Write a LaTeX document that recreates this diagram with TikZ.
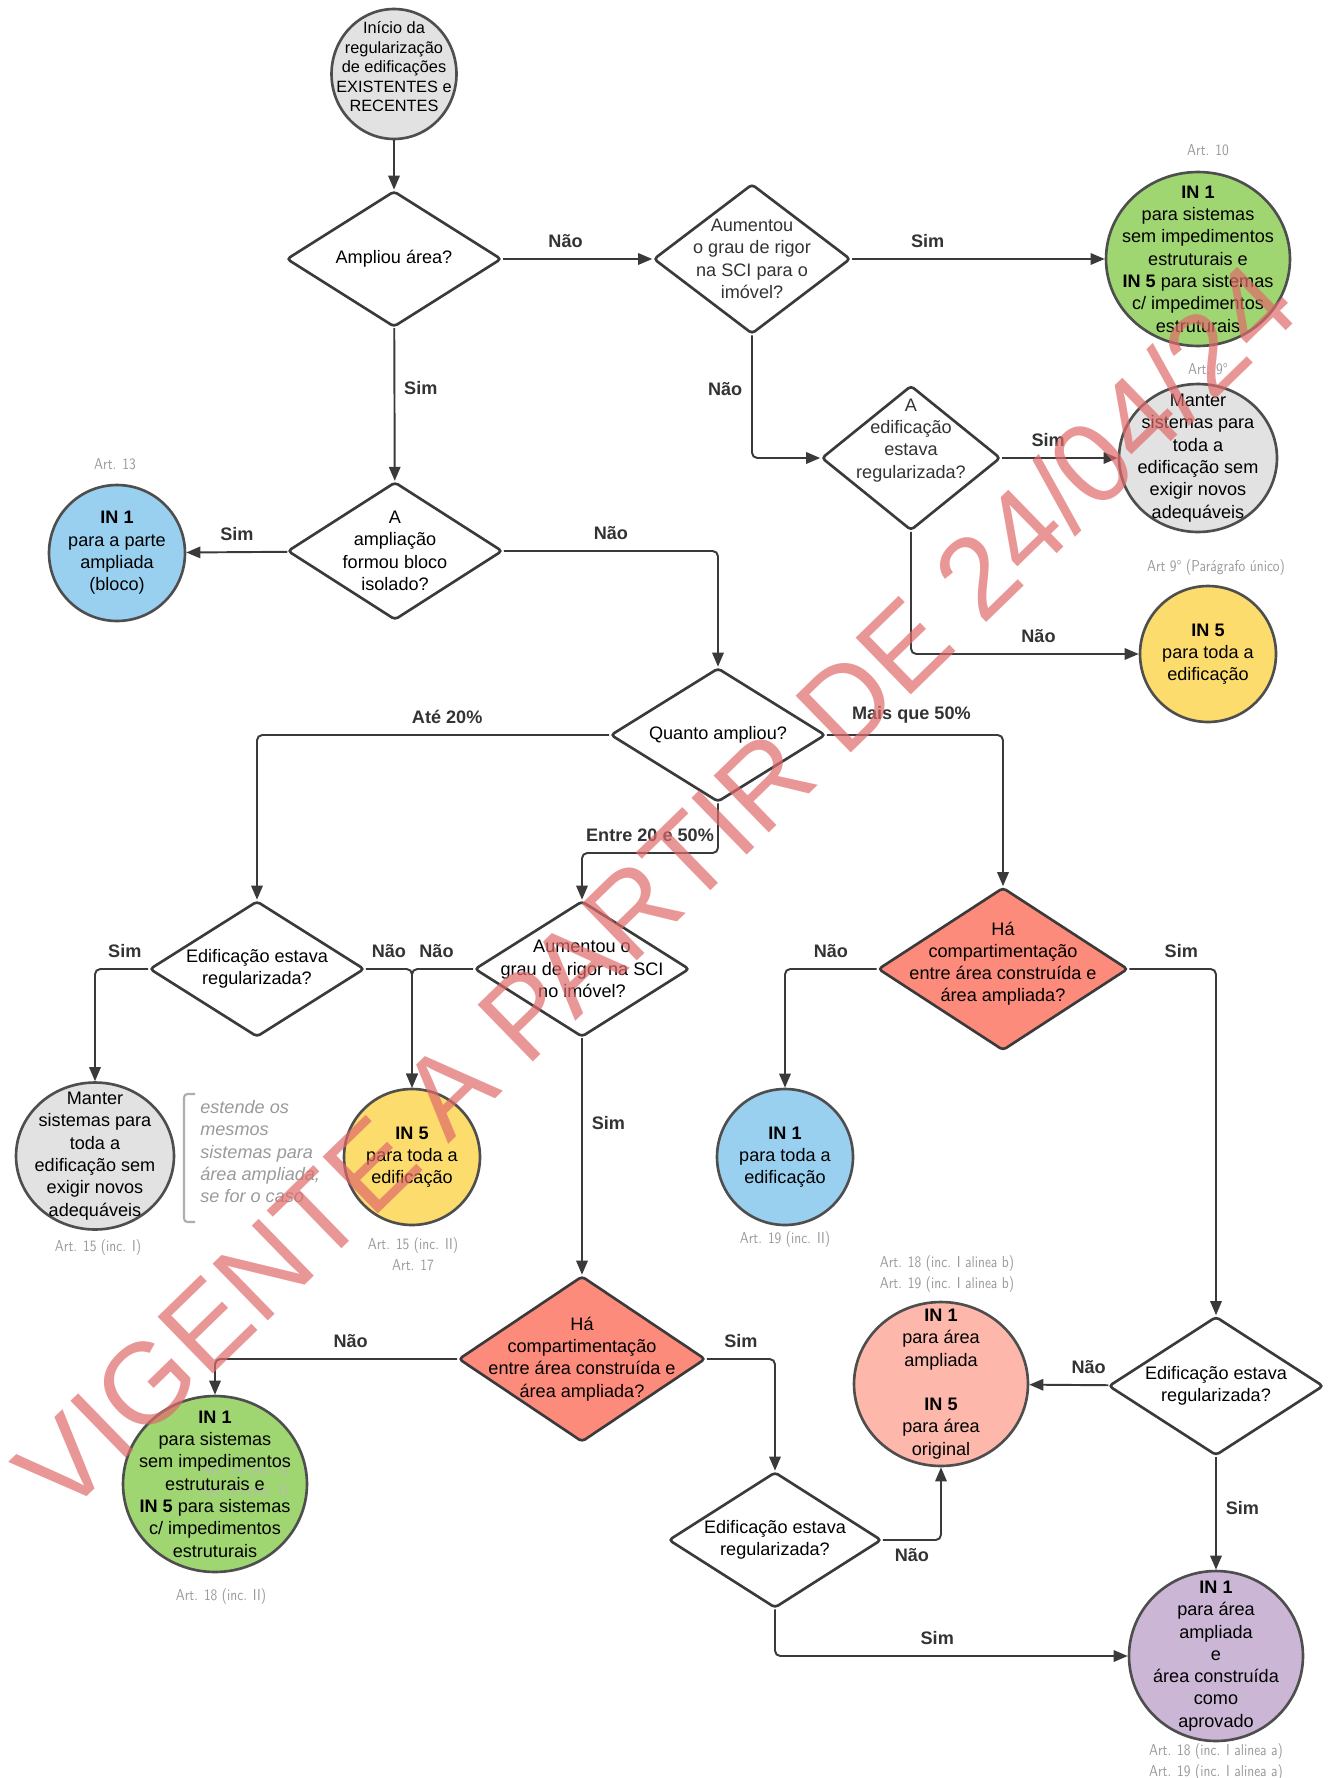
\documentclass[tikz,border=0pt]{standalone}
\usepackage{fontspec}
\setmainfont{Liberation Sans}
\newfontfamily\artfont[FakeStretch=0.85]{lmsans10-regular.otf}
\usepackage{xcolor}
\usetikzlibrary{shapes.geometric,arrows.meta,positioning,calc}

\definecolor{linec}{HTML}{3A3A3A}
\definecolor{labc}{HTML}{333333}
\definecolor{artc}{HTML}{9A9A9A}
\definecolor{grayfill}{HTML}{E2E2E2}
\definecolor{greenfill}{HTML}{A0D672}
\definecolor{bluefill}{HTML}{99D0EF}
\definecolor{yellowfill}{HTML}{FDDC6E}
\definecolor{redfill}{HTML}{FC8B7B}
\definecolor{pinkfill}{HTML}{FDB8AB}
\definecolor{purplefill}{HTML}{CBB7D5}
\definecolor{wmred}{HTML}{E06A6A}

\newcommand{\txtsz}{\fontsize{10.3}{12.7}\selectfont}
\newcommand{\smallsz}{\fontsize{9.3}{11.1}\selectfont}
\newcommand{\artsz}{\fontsize{9}{12}\selectfont\artfont}

\tikzset{
  dec/.style={diamond, draw=linec, line width=1.5pt, rounded corners=2pt, fill=white, inner sep=0pt},
  circ/.style={ellipse, draw=linec!90, line width=1.5pt, inner sep=0pt},
  txt/.style={align=center, font=\txtsz, text=black},
  arr/.style={draw=linec, line width=1.1pt, rounded corners=3pt, -{Triangle[length=8pt,width=6.5pt]}},
  lab/.style={font=\txtsz\bfseries, text=labc, inner sep=2pt},
  art/.style={font=\artsz, text=artc, align=center},
}

\begin{document}
\begin{tikzpicture}[x=0.02cm, y=-0.02cm]
    \useasboundingbox (0,0) rectangle (1335,1778);
    \fill[white] (0,0) rectangle (1335,1778);

    % Start
    \node[circ, fill=grayfill, minimum width=2.5cm, minimum height=2.6cm,
      label={[txt, font=\smallsz, yshift=4pt]center:{Início da\\regularização\\de edificações\\EXISTENTES e\\RECENTES}}] (start) at (394,74) {};

    % Top row
    \node[dec, minimum width=4.3cm, minimum height=2.72cm,
      label={[txt]center:{Ampliou área?}}] (d1) at (394,259) {};
    \node[dec, minimum width=3.94cm, minimum height=3.0cm,
      label={[txt, text=labc]center:{Aumentou\\o grau de rigor\\na SCI para o\\imóvel?}}] (d2) at (752,259) {};
    \node[circ, fill=greenfill, minimum width=3.68cm, minimum height=3.48cm,
      label={[txt]center:{\textbf{IN 1}\\para sistemas\\sem impedimentos\\estruturais e\\\textbf{IN 5} para sistemas\\c/ impedimentos\\estruturais}}] (g1) at (1198,259) {};
    \node[art] (art10) at (1208,150) {Art. 10};

    \node[dec, minimum width=3.58cm, minimum height=2.9cm,
      label={[txt, text=labc, yshift=10pt]center:{A\\edificação\\estava\\regularizada?}}] (d3) at (911,458) {};
    \node[circ, fill=grayfill, minimum width=3.16cm, minimum height=2.96cm,
      label={[txt]center:{Manter\\sistemas para\\toda a\\edificação sem\\exigir novos\\adequáveis}}] (m1) at (1198,458) {};
    \node[art] (art9) at (1208,369) {Art. 9°};
    \node[circ, fill=yellowfill, minimum width=2.72cm, minimum height=2.72cm,
      label={[txt]center:{\textbf{IN 5}\\para toda a\\edificação}}] (y1) at (1208,654) {};
    \node[art] (art9p) at (1216,568) {Art 9° (Parágrafo único)};

    % Ampliou
    \node[dec, minimum width=4.3cm, minimum height=2.76cm,
      label={[txt]center:{A\\ampliação\\formou bloco\\isolado?}}] (d4) at (395,551) {};
    \node[circ, fill=bluefill, minimum width=2.72cm, minimum height=2.72cm,
      label={[txt]center:{\textbf{IN 1}\\para a parte\\ampliada\\(bloco)}}] (b1) at (117,553) {};
    \node[art] (art13) at (115,464) {Art. 13};

    \node[dec, minimum width=4.3cm, minimum height=2.68cm,
      label={[txt]center:{Quanto ampliou?}}] (d5) at (718,735) {};

    % Middle row
    \node[dec, minimum width=4.3cm, minimum height=2.72cm,
      label={[txt]center:{Edificação estava\\regularizada?}}] (d6) at (257,969) {};
    \node[dec, minimum width=4.3cm, minimum height=2.72cm,
      label={[txt]center:{Aumentou o\\grau de rigor na SCI\\no imóvel?}}] (d7) at (582,969) {};
    \node[dec, fill=redfill, minimum width=5.0cm, minimum height=3.26cm,
      label={[txt, yshift=3pt]center:{Há\\compartimentação\\entre área construída e\\área ampliada?}}] (d8) at (1003,969) {};

    \node[circ, fill=grayfill, minimum width=3.16cm, minimum height=2.94cm,
      label={[txt]center:{Manter\\sistemas para\\toda a\\edificação sem\\exigir novos\\adequáveis}}] (m2) at (95,1156) {};
    \node[art] (art15a) at (98,1248) {Art. 15 (inc. I)};
    \draw[artc!80, line width=1.2pt, rounded corners=2pt] (195,1094) -- (184,1094) -- (184,1222) -- (195,1222);
    \node[anchor=north west, align=left, inner sep=0pt, text=artc, font=\txtsz\itshape] (note) at (200,1100)
      {estende os\\mesmos\\sistemas para\\área ampliada,\\se for o caso};
    \node[circ, fill=yellowfill, minimum width=2.72cm, minimum height=2.72cm,
      label={[txt]center:{\textbf{IN 5}\\para toda a\\edificação}}] (y2) at (412,1157) {};
    \node[art] (art15b) at (413,1254) {Art. 15 (inc. II)\\Art. 17};
    \node[circ, fill=bluefill, minimum width=2.72cm, minimum height=2.72cm,
      label={[txt]center:{\textbf{IN 1}\\para toda a\\edificação}}] (b2) at (785,1157) {};
    \node[art] (art19) at (785,1240) {Art. 19 (inc. II)};

    % Bottom rows
    \node[dec, fill=redfill, minimum width=4.94cm, minimum height=3.32cm,
      label={[txt]center:{Há\\compartimentação\\entre área construída e\\área ampliada?}}] (d9) at (582,1359) {};
    \node[circ, fill=greenfill, minimum width=3.68cm, minimum height=3.52cm] (g2) at (215,1484) {};
    \node[art, text=artc!70] (art14) at (245,1481) {Art. 14 (inc. I)\\Art. 15 (inc. I)};
    \node[txt] (g2txt) at (g2) {\textbf{IN 1}\\para sistemas\\sem impedimentos\\estruturais e\\\textbf{IN 5} para sistemas\\c/ impedimentos\\estruturais};
    \node[art] (art18) at (221,1597) {Art. 18 (inc. II)};

    \node[dec, minimum width=4.3cm, minimum height=2.78cm,
      label={[txt]center:{Edificação estava\\regularizada?}}] (d10) at (1216,1386) {};
    \node[circ, fill=pinkfill, minimum width=3.48cm, minimum height=3.28cm,
      label={[txt]center:{\textbf{IN 1}\\para área\\ampliada\\[12.7pt]\textbf{IN 5}\\para área\\original}}] (p1) at (941,1384) {};
    \node[art] (art18b) at (947,1274) {Art. 18 (inc. I alinea b)\\Art. 19 (inc. I alinea b)};
    \node[dec, minimum width=4.26cm, minimum height=2.72cm,
      label={[txt]center:{Edificação estava\\regularizada?}}] (d11) at (775,1540) {};
    \node[circ, fill=purplefill, minimum width=3.48cm, minimum height=3.4cm,
      label={[txt]center:{\textbf{IN 1}\\para área\\ampliada\\e\\área construída\\como\\aprovado}}] (l1) at (1216,1656) {};
    \node[art] (art18a) at (1216,1762) {Art. 18 (inc. I alinea a)\\Art. 19 (inc. I alinea a)};

    % Connectors
    \coordinate (k1) at (718,853);
    \draw[arr] (start) -- (d1);
    \draw[arr] (d1) -- node[lab, above=4pt, pos=0.42] {Não} (d2);
    \draw[arr] (d2) -- node[lab, above=4pt, pos=0.3] {Sim} (g1);
    \draw[arr] (d2.south) |- node[lab, left=3pt, pos=0.22] {Não} (d3.west);
    \draw[arr] (d3) -- node[lab, above=4pt, pos=0.4] {Sim} (m1);
    \draw[arr] (d3.south) |- node[lab, above=4pt, pos=0.78] {Não} (y1.west);
    \draw[arr] (d1) -- node[lab, right=3pt, pos=0.39] {Sim} (d4);
    \draw[arr] (d4) -- node[lab, above=4pt] {Sim} (b1);
    \draw[arr] (d4.east) -| node[lab, above=4pt, pos=0.25] {Não} (d5.north);
    \draw[arr] (d5.west) -| node[lab, above=4pt, pos=0.23] {Até 20\%} (d6.north);
    \draw[arr] (d5.east) -| node[lab, above=4pt, pos=0.24] {Mais que 50\%} (d8.north);
    \draw[arr] (d5.south) -- (k1) -| node[lab, above=4pt, pos=0.25] {Entre 20 e 50\%} (d7.north);
    \draw[arr] (d6.west) -| node[lab, above=4pt, pos=0.22] {Sim} (m2.north);
    \draw[arr] (d6.east) -| node[lab, above=4pt, pos=0.25] {Não} (y2.north);
    \draw[arr] (d7.west) -| node[lab, above=4pt, pos=0.3] {Não} (y2.north);
    \draw[arr] (d7) -- node[lab, right=3pt, pos=0.36] {Sim} (d9);
    \draw[arr] (d8.west) -| node[lab, above=4pt, pos=0.25] {Não} (b2.north);
    \draw[arr] (d8.east) -| node[lab, above=4pt, pos=0.3] {Sim} (d10.north);
    \draw[arr] (d10) -- node[lab, above=4pt, pos=0.25] {Não} (p1);
    \draw[arr] (d10) -- node[lab, right=3pt, pos=0.45] {Sim} (l1);
    \draw[arr] (d9.west) -| node[lab, above=4pt, pos=0.22] {Não} (g2.north);
    \draw[arr] (d9.east) -| node[lab, above=4pt, pos=0.25] {Sim} (d11.north);
    \draw[arr] (d11.east) -| node[lab, below=2pt, pos=0.25] {Não} (p1.south);
    \draw[arr] (d11.south) |- node[lab, above=4pt, pos=0.73] {Sim} (l1.west);

    % Watermark
    \node[rotate=44.2, text=wmred, text opacity=0.7, font=\fontsize{65.5}{65.5}\selectfont] (wm) at (655,887)
      {VIGENTE A PARTIR DE 24/04/24};
\end{tikzpicture}
\end{document}
